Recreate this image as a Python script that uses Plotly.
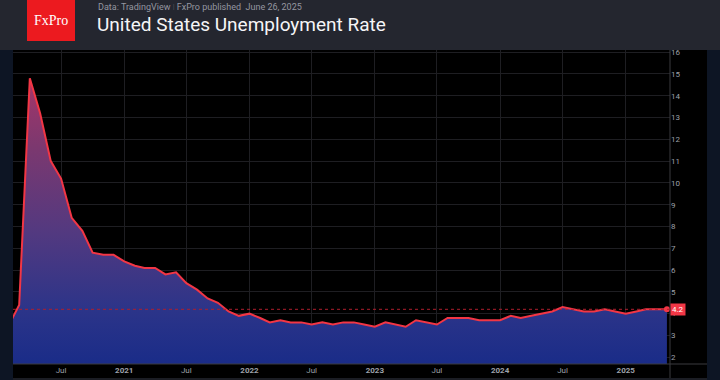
import plotly.graph_objects as go

# ---- data (monthly US unemployment rate, %) ----
rate_2020 = [3.5, 4.4, 14.8, 13.2, 11.0, 10.2, 8.4, 7.8, 6.8, 6.7, 6.7]  # Feb-Dec
rate_2021 = [6.4, 6.2, 6.1, 6.1, 5.8, 5.9, 5.4, 5.1, 4.7, 4.5, 4.1, 3.9]
rate_2022 = [4.0, 3.8, 3.6, 3.7, 3.6, 3.6, 3.5, 3.6, 3.5, 3.6, 3.6, 3.5]
rate_2023 = [3.4, 3.6, 3.5, 3.4, 3.7, 3.6, 3.5, 3.8, 3.8, 3.8, 3.7, 3.7]
rate_2024 = [3.7, 3.9, 3.8, 3.9, 4.0, 4.1, 4.3, 4.2, 4.1, 4.1, 4.2, 4.1]
rate_2025 = [4.0, 4.1, 4.2, 4.2, 4.2]  # Jan-May

tick_dates = ["2020-07-01", "2021-01-01", "2021-07-01", "2022-01-01", "2022-07-01",
              "2023-01-01", "2023-07-01", "2024-01-01", "2024-07-01", "2025-01-01"]
tick_labels = ["Jul", "2021", "Jul", "2022", "Jul", "2023", "Jul", "2024", "Jul", "2025"]
y_ticks = list(range(2, 17))

subtitle = "Data: TradingView"
publisher = "FxPro published  June 26, 2025"
title = "United States Unemployment Rate"

# ---- build series ----
dates, values = [], []
for year, start_month, vals in [(2020, 2, rate_2020), (2021, 1, rate_2021), (2022, 1, rate_2022),
                                (2023, 1, rate_2023), (2024, 1, rate_2024), (2025, 1, rate_2025)]:
    for i, v in enumerate(vals):
        dates.append(f"{year}-{start_month + i:02d}-01")
        values.append(v)

W, H = 720, 380
ML, MR, MT, MB = 13, 50, 50, 16
PW, PH = W - ML - MR, H - MT - MB


def px(x):
    return (x - ML) / PW


def py(y):
    return (H - MB - y) / PH


RED = "#f23645"

fig = go.Figure()
fig.add_trace(go.Scatter(
    x=dates, y=values, mode="lines",
    line=dict(color=RED, width=2),
    fill="tozeroy",
    fillgradient=dict(type="vertical", start=1.7, stop=15,
                      colorscale=[[0, "#1a2c88"], [0.18, "#2b3489"], [0.45, "#523980"],
                                  [0.75, "#7c386f"], [1, "#a83568"]]),
    hoverinfo="skip", showlegend=False,
))
fig.add_trace(go.Scatter(
    x=[dates[-1]], y=[values[-1]], mode="markers",
    marker=dict(color=RED, size=6), hoverinfo="skip", showlegend=False,
))

shapes = [
    # chart panel
    dict(type="rect", xref="paper", yref="paper", x0=px(13), x1=px(707), y0=py(50), y1=py(378),
         fillcolor="#000000", line_width=0, layer="below"),
    dict(type="rect", xref="paper", yref="paper", x0=px(0), x1=px(13), y0=py(50), y1=py(380),
         fillcolor="#0d1524", line_width=0, layer="below"),
    dict(type="rect", xref="paper", yref="paper", x0=px(707), x1=px(720), y0=py(50), y1=py(380),
         fillcolor="#0d1524", line_width=0, layer="below"),
    dict(type="rect", xref="paper", yref="paper", x0=px(13), x1=px(707), y0=py(378), y1=py(380),
         fillcolor="#1b1d24", line_width=0, layer="below"),
    # axis separators
    dict(type="line", xref="paper", yref="paper", x0=px(670), x1=px(670), y0=py(50), y1=py(378),
         line=dict(color="#3a3a3e", width=1), layer="above"),
    dict(type="line", xref="paper", yref="paper", x0=px(13), x1=px(707), y0=py(364), y1=py(364),
         line=dict(color="#3a3a3e", width=1), layer="above"),
    # last value price line
    dict(type="line", xref="paper", yref="y", x0=0, x1=1, y0=values[-1], y1=values[-1],
         line=dict(color="#b01e2e", width=1, dash="dot"), layer="above"),
    # logo
    dict(type="rect", xref="paper", yref="paper", x0=px(27), x1=px(75), y0=py(0), y1=py(41),
         fillcolor="#ec1a1f", line_width=0, layer="above"),
]

annotations = [
    dict(xref="paper", yref="paper", x=px(51), y=py(20), text="FxPro", showarrow=False,
         font=dict(family="Liberation Serif", size=14, color="white"), xanchor="center", yanchor="middle"),
    dict(xref="paper", yref="paper", x=px(96), y=py(7),
         text=f"{subtitle} <span style='color:#5a5c64'>ǀ</span> {publisher}", showarrow=False,
         font=dict(family="Roboto", size=9, color="#9496a0"), xanchor="left", yanchor="middle"),
    dict(xref="paper", yref="paper", x=px(95), y=py(24), text=title, showarrow=False,
         font=dict(family="Roboto", size=19, color="#f5f5f7"), xanchor="left", yanchor="middle"),
    dict(xref="paper", yref="y", x=1, y=values[-1], text=f"{values[-1]:.1f}", showarrow=False,
         xanchor="left", yanchor="middle", bgcolor=RED, borderpad=1, xshift=0,
         font=dict(family="Roboto", size=8, color="white")),
]

fig.update_layout(
    width=W, height=H,
    margin=dict(l=ML, r=MR, t=MT, b=MB, autoexpand=False),
    paper_bgcolor="#24262f", plot_bgcolor="#000000",
    shapes=shapes, annotations=annotations,
    xaxis=dict(range=["2020-02-12", "2025-05-10"], tickvals=tick_dates, automargin=False,
               ticktext=[t if t == "Jul" else f"<b>{t}</b>" for t in tick_labels],
               showgrid=True, gridcolor="#1e1e22", gridwidth=1, zeroline=False,
               showline=False, ticks="", tickfont=dict(family="Roboto", size=8, color="#9ea1aa")),
    yaxis=dict(range=[1.69, 16.1], side="right", tickvals=y_ticks, automargin=False,
               showgrid=True, gridcolor="#1e1e22", gridwidth=1, zeroline=False,
               showline=False, ticks="", tickfont=dict(family="Roboto", size=8, color="#9ea1aa")),
)

fig.write_html("out.html", config={"displayModeBar": False},
               post_script="document.body.style.margin='0';document.body.style.overflow='hidden';")
